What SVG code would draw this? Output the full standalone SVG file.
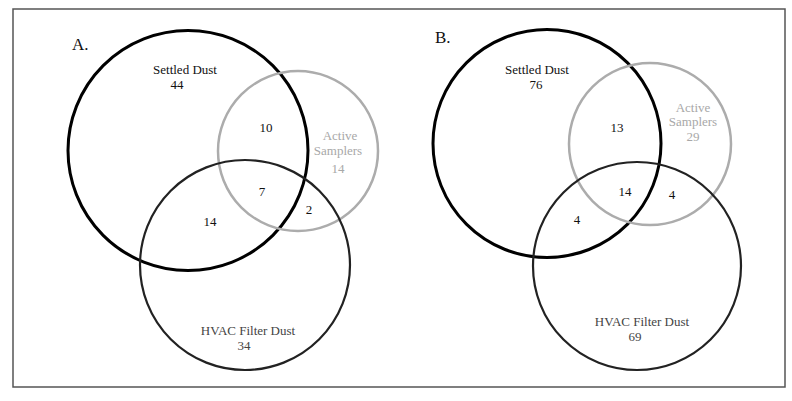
<svg xmlns="http://www.w3.org/2000/svg" width="792" height="401" viewBox="0 0 792 401">
<style>
text{font-family:"Liberation Serif","Times New Roman",serif;font-size:13px;text-anchor:middle;fill:#111}
.big{font-size:17px;text-anchor:start}
.gray{fill:#a8a8a8}
.mid{fill:#444}
.sd{fill:none;stroke:#000;stroke-width:3}
.as{fill:none;stroke:#acacac;stroke-width:2.5}
.hv{fill:none;stroke:#222;stroke-width:2.2}
</style>
<rect x="0" y="0" width="792" height="401" fill="#fff"/>
<rect x="13" y="9" width="772" height="378" fill="none" stroke="#555" stroke-width="1.5"/>
<g id="panelA">
<text class="big" x="72" y="50">A.</text>
<g id="A-settled"><circle class="sd" cx="188" cy="150.5" r="120"/><text x="185" y="74">Settled Dust</text><text x="177" y="89">44</text></g>
<g id="A-active"><circle class="as" cx="298" cy="151" r="80"/><text class="gray" x="340" y="140">Active</text><text class="gray" x="338" y="155">Samplers</text><text class="gray" x="338" y="173">14</text></g>
<g id="A-hvac"><circle class="hv" cx="245" cy="265" r="105"/><text class="mid" x="248" y="335">HVAC Filter Dust</text><text class="mid" x="244" y="350">34</text></g>
<text x="266" y="132">10</text>
<text x="262" y="196">7</text>
<text x="309" y="214">2</text>
<text x="210" y="226">14</text>
</g>
<g id="panelB">
<text class="big" x="435" y="43">B.</text>
<g id="B-settled"><circle class="sd" cx="547" cy="143.5" r="114"/><text x="537" y="74">Settled Dust</text><text x="536" y="89">76</text></g>
<g id="B-active"><circle class="as" cx="650" cy="144" r="81"/><text class="gray" x="693" y="112">Active</text><text class="gray" x="693" y="126">Samplers</text><text class="gray" x="693" y="141">29</text></g>
<g id="B-hvac"><circle class="hv" cx="637" cy="266" r="104"/><text class="mid" x="642" y="326">HVAC Filter Dust</text><text class="mid" x="635" y="341">69</text></g>
<text x="617" y="132">13</text>
<text x="625" y="196">14</text>
<text x="672" y="199">4</text>
<text x="577" y="224">4</text>
</g>
</svg>
